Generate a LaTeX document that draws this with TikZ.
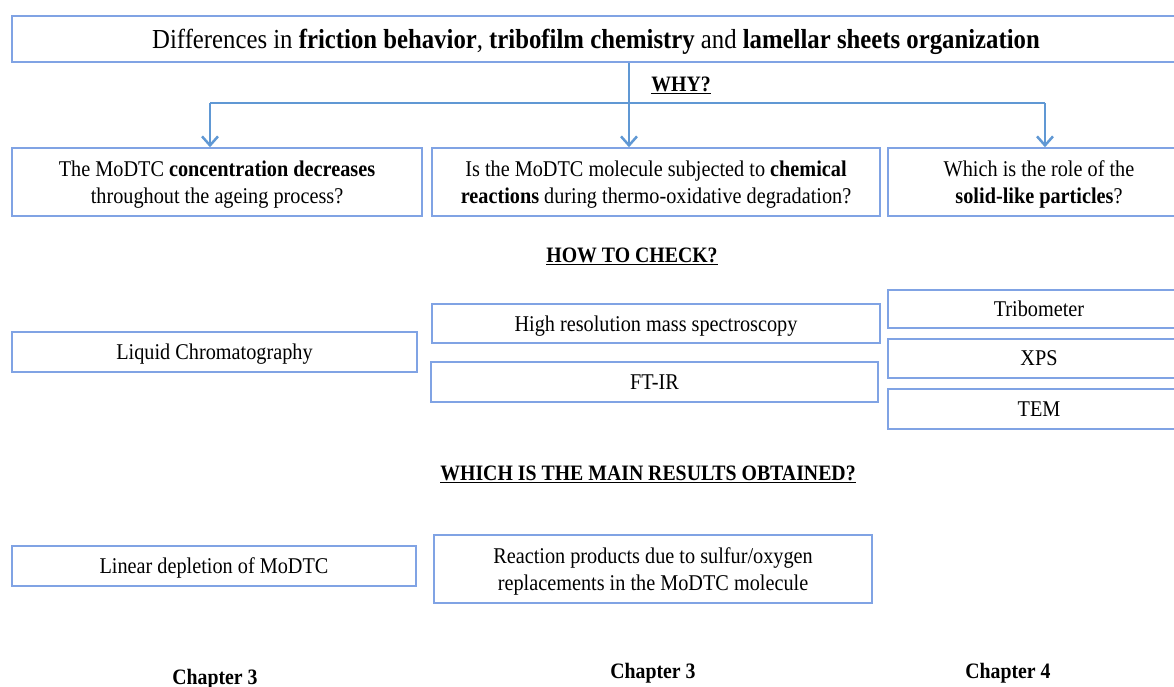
\documentclass[tikz,border=0pt]{standalone}
\usepackage{fontspec}
\setmainfont{Liberation Serif}[FakeStretch=0.9]
\usetikzlibrary{arrows.meta,positioning,calc}
\definecolor{boxblue}{RGB}{128,163,228}
\definecolor{arrowblue}{RGB}{96,152,212}

\begin{document}
\begin{tikzpicture}[x=1pt, y=-1pt,
  txt/.style={font=\fontsize{22.5}{27}\selectfont, align=center, inner sep=0pt},
  box/.style={txt, draw=boxblue, line width=1.5pt, text depth=-1pt},
  head/.style={font=\fontsize{22}{26}\selectfont\bfseries, inner sep=0pt},
  flow/.style={draw=arrowblue, line width=2.5pt},
  tip/.style={-{Straight Barb[length=9pt,width=16pt,line width=2.5pt]}}]
  \useasboundingbox (0,0) rectangle (1174,687);

  %% ── Top statement ─────────────────────────────────────────
  \node[box, minimum width=1168pt, minimum height=46pt, text depth=-3pt,
        font=\fontsize{27.5}{30}\selectfont] (title) at (596,39)
    {Differences in \textbf{friction behavior}, \textbf{tribofilm chemistry} and \textbf{lamellar sheets organization}};
  \node[head] (why) at (681,85) {\underline{WHY?}};

  %% ── Questions ─────────────────────────────────────────────
  \node[box, minimum width=410pt, minimum height=68pt] (q1) at (217,182)
    {The MoDTC \textbf{concentration decreases}\\throughout the ageing process?};
  \node[box, minimum width=448pt, minimum height=68pt] (q2) at (656,182)
    {Is the MoDTC molecule subjected to \textbf{chemical}\\\textbf{reactions} during thermo-oxidative degradation?};
  \node[box, minimum width=302pt, minimum height=68pt] (q3) at (1039,182)
    {Which is the role of the\\\textbf{solid-like particles}?};

  %% branching arrows
  \coordinate (split) at (629,103);
  \coordinate (left) at (210,103);
  \coordinate (right) at (1045,103);
  \draw[flow] (left) -- (right);
  \draw[flow, tip] (title.south -| split) -- (q2.north -| split);
  \draw[flow, tip] (left) -- (q1.north -| left);
  \draw[flow, tip] (right) -- (q3.north -| right);

  %% ── How to check ──────────────────────────────────────────
  \node[head] (check) at (632,256) {\underline{HOW TO CHECK?}};
  \node[box, minimum width=405pt, minimum height=40pt] (lc) at (214.5,352) {Liquid Chromatography};
  \node[box, minimum width=448pt, minimum height=39pt] (hrms) at (656,323.5) {High resolution mass spectroscopy};
  \node[box, minimum width=447pt, minimum height=40pt] (ftir) at (654.5,382) {FT-IR};
  \node[box, minimum width=302pt, minimum height=38pt] (tribo) at (1039,309) {Tribometer};
  \node[box, minimum width=302pt, minimum height=39pt] (xps) at (1039,358.5) {XPS};
  \node[box, minimum width=302pt, minimum height=40pt] (tem) at (1039,409) {TEM};

  %% ── Results ───────────────────────────────────────────────
  \node[head] (results) at (648,474) {\underline{WHICH IS THE MAIN RESULTS OBTAINED?}};
  \node[box, minimum width=404pt, minimum height=40pt] (depl) at (214,566) {Linear depletion of MoDTC};
  \node[box, minimum width=438pt, minimum height=68pt] (react) at (653,569)
    {Reaction products due to sulfur/oxygen\\replacements in the MoDTC molecule};

  %% chapters
  \node[head] (ch1) at (215,679) {Chapter 3};
  \node[head] (ch2) at (653,673) {Chapter 3};
  \node[head] (ch3) at (1008,673) {Chapter 4};
\end{tikzpicture}
\end{document}
